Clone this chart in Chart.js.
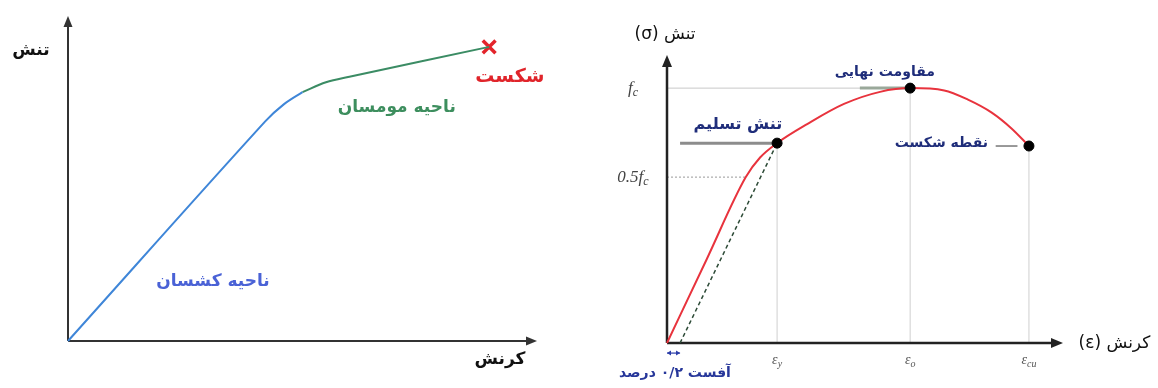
<!DOCTYPE html>
<html><head><meta charset="utf-8">
<script src="https://cdn.jsdelivr.net/npm/chart.js@4.4.1/dist/chart.umd.min.js"></script>
<style>
html,body{margin:0;padding:0;background:#fff;}
#wrap{position:relative;width:1158px;height:388px;overflow:hidden;background:#fff;}
canvas{position:absolute;top:0;}
#c1{left:0;} #c2{left:580px;}
</style></head><body>
<div id="wrap"><canvas id="c1" width="580" height="388"></canvas><canvas id="c2" width="578" height="388"></canvas></div>
<script>
// ---------- Left chart: generic stress-strain (relative units) ----------
const elasticStrain = [0, 42, 46, 50];
const elasticStress = [0, 67.5, 72.8, 76.6];
const plasticStrain = [50, 55, 60, 89.8];
const plasticStress = [76.6, 79.6, 81.3, 90.5];
const fractureStrain = [89.8];
const fractureStress = [90.5];

// ---------- Right chart: concrete stress-strain (relative units) ----------
const concreteStrain = [0, 10, 19.9, 23.5, 27.8, 35.4, 44.7, 53.8, 61.4, 70, 76, 82, 87, 91.4];
const concreteStress = [0, 29, 57.6, 64.4, 69.4, 76, 83, 87.2, 88.5, 87.7, 84.5, 80, 74.5, 68.4];
const offsetStrain = [3.3, 27.8];
const offsetStress = [0, 69.4];
const keyStrain = [27.8, 61.4, 91.4];   // εy, εo, εcu
const keyStress = [69.4, 88.5, 68.4];   // yield, ultimate strength, failure
const strainTickLabels = [['ε','y'], ['ε','o'], ['ε','cu']];
const stressTickValues = [57.6, 88.5];
const stressTickLabels = [['0.5f','c'], ['f','c']];

const xy = (xs, ys) => xs.map((x, i) => ({x, y: ys[i]}));

function arrowAxes(color, width, head) {
  return {
    id: 'arrowAxes',
    beforeDatasetsDraw(chart) {
      const {ctx, chartArea: a} = chart;
      ctx.save();
      ctx.strokeStyle = color; ctx.fillStyle = color; ctx.lineWidth = width;
      ctx.beginPath();
      ctx.moveTo(a.left, a.bottom); ctx.lineTo(a.right - head, a.bottom);
      ctx.moveTo(a.left, a.bottom); ctx.lineTo(a.left, a.top + head);
      ctx.stroke();
      ctx.beginPath();
      ctx.moveTo(a.right, a.bottom); ctx.lineTo(a.right - head - 2, a.bottom - head * 0.5); ctx.lineTo(a.right - head - 2, a.bottom + head * 0.5); ctx.closePath(); ctx.fill();
      ctx.beginPath();
      ctx.moveTo(a.left, a.top); ctx.lineTo(a.left - head * 0.5, a.top + head + 2); ctx.lineTo(a.left + head * 0.5, a.top + head + 2); ctx.closePath(); ctx.fill();
      ctx.restore();
    }
  };
}

function drawText(chart, t) {
  const {ctx, scales} = chart;
  const px = scales.x.getPixelForValue(t.x), py = scales.y.getPixelForValue(t.y);
  ctx.save();
  ctx.font = t.font; ctx.fillStyle = t.color;
  ctx.textAlign = t.align || 'center'; ctx.textBaseline = 'middle';
  ctx.direction = t.rtl ? 'rtl' : 'ltr';
  ctx.fillText(t.text, px, py);
  ctx.restore();
}

function drawSub(chart, parts, px, py, size, color, align) {
  const ctx = chart.ctx;
  ctx.save();
  ctx.fillStyle = color; ctx.textBaseline = 'middle';
  const f1 = 'italic ' + size + 'px "Liberation Serif", "DejaVu Serif", serif';
  const f2 = 'italic ' + Math.round(size * 0.7) + 'px "Liberation Serif", "DejaVu Serif", serif';
  ctx.font = f1; const w1 = ctx.measureText(parts[0]).width;
  ctx.font = f2; const w2 = ctx.measureText(parts[1]).width;
  let x0 = align === 'right' ? px - w1 - w2 : px - (w1 + w2) / 2;
  ctx.textAlign = 'left';
  ctx.font = f1; ctx.fillText(parts[0], x0, py);
  ctx.font = f2; ctx.fillText(parts[1], x0 + w1, py + size * 0.3);
  ctx.restore();
}

const baseOpts = (pad) => ({
  responsive: false, animation: false, devicePixelRatio: 1,
  layout: {padding: pad},
  plugins: {legend: {display: false}, tooltip: {enabled: false}},
  scales: {
    x: {type: 'linear', min: 0, max: 100, display: false},
    y: {type: 'linear', min: 0, max: 100, display: false}
  }
});

// ---------- Left chart ----------
const leftLabels = [
  {text: 'تنش', x: -7.9, y: 89.5, font: 'bold 17px "DejaVu Sans"', color: '#111', rtl: true},
  {text: 'کرنش', x: 92.1, y: -5.8, font: 'bold 17px "DejaVu Sans"', color: '#111', rtl: true},
  {text: 'ناحیه کشسان', x: 30.9, y: 18.2, font: 'bold 17px "DejaVu Sans"', color: '#4a62d6', rtl: true},
  {text: 'ناحیه مومسان', x: 70.1, y: 71.7, font: 'bold 17px "DejaVu Sans"', color: '#3d8e5e', rtl: true},
  {text: 'شکست', x: 94.2, y: 81.2, font: 'bold 19px "DejaVu Sans"', color: '#e0242a', rtl: true}
];
new Chart(document.getElementById('c1'), {
  type: 'line',
  data: {datasets: [
    {data: xy(elasticStrain, elasticStress), borderColor: '#3f86d8', borderWidth: 2, pointRadius: 0, tension: 0.35, clip: false},
    {data: xy(plasticStrain, plasticStress), borderColor: '#3b8c64', borderWidth: 2, pointRadius: 0, tension: 0.35, clip: false},
    {data: xy(fractureStrain, fractureStress), showLine: false, pointStyle: 'crossRot', pointRadius: 9, borderWidth: 3.5, borderColor: '#e3242b', clip: false}
  ]},
  options: baseOpts({left: 68, right: 43, top: 16, bottom: 47}),
  plugins: [arrowAxes('#333', 2, 9), {
    id: 'leftText',
    afterDatasetsDraw(chart) { leftLabels.forEach(t => drawText(chart, t)); }
  }]
});

// ---------- Right chart ----------
const navy = '#1f2d7a';
const rightLabels = [
  {text: 'تنش (σ)', x: -0.5, y: 107, font: '17px "DejaVu Sans"', color: '#111', rtl: true},
  {text: 'کرنش (ε)', x: 113, y: -0.3, font: '17px "DejaVu Sans"', color: '#111', rtl: true},
  {text: 'تنش تسلیم', x: 17.9, y: 75.7, font: 'bold 16px "DejaVu Sans"', color: navy, rtl: true},
  {text: 'مقاومت نهایی', x: 55, y: 94.1, font: 'bold 14px "DejaVu Sans"', color: navy, rtl: true},
  {text: 'نقطه شکست', x: 69.3, y: 69.4, font: 'bold 14px "DejaVu Sans"', color: navy, rtl: true},
  {text: 'آفست ۰/۲ درصد', x: 2, y: -10.4, font: 'bold 14px "DejaVu Sans"', color: '#27379a', rtl: true}
];
new Chart(document.getElementById('c2'), {
  type: 'line',
  data: {datasets: [
    {data: xy(concreteStrain, concreteStress), borderColor: '#e8333d', borderWidth: 2, pointRadius: 0, cubicInterpolationMode: 'monotone', clip: false, order: 2},
    {data: xy(offsetStrain, offsetStress), borderColor: '#2c4a36', borderWidth: 1.5, borderDash: [4, 3], pointRadius: 0, clip: false, order: 3},
    {data: xy(keyStrain, keyStress), showLine: false, pointRadius: 5, pointBackgroundColor: '#000', pointBorderColor: '#000', clip: false, order: 1}
  ]},
  options: baseOpts({left: 87, right: 95, top: 55, bottom: 45}),
  plugins: [{
    id: 'guides',
    beforeDatasetsDraw(chart) {
      const {ctx, scales: {x, y}} = chart;
      const y0 = y.getPixelForValue(0);
      ctx.save();
      ctx.strokeStyle = '#cfcfcf'; ctx.lineWidth = 1;
      keyStrain.forEach((s, i) => {
        const px = x.getPixelForValue(s);
        ctx.beginPath(); ctx.moveTo(px, y.getPixelForValue(keyStress[i])); ctx.lineTo(px, y0); ctx.stroke();
      });
      // fc line
      ctx.strokeStyle = '#c8c8c8';
      const fy = y.getPixelForValue(stressTickValues[1]);
      ctx.beginPath(); ctx.moveTo(x.getPixelForValue(0), fy); ctx.lineTo(x.getPixelForValue(keyStrain[1]), fy); ctx.stroke();
      // 0.5 fc dotted
      const hy = y.getPixelForValue(stressTickValues[0]);
      ctx.setLineDash([2, 2]); ctx.strokeStyle = '#999';
      ctx.beginPath(); ctx.moveTo(x.getPixelForValue(0), hy); ctx.lineTo(x.getPixelForValue(concreteStrain[2]), hy); ctx.stroke();
      ctx.setLineDash([]);
      // leader lines
      ctx.strokeStyle = '#8c8c8c'; ctx.lineWidth = 3;
      const yy = y.getPixelForValue(keyStress[0]);
      ctx.beginPath(); ctx.moveTo(x.getPixelForValue(3.3), yy); ctx.lineTo(x.getPixelForValue(keyStrain[0]), yy); ctx.stroke();
      ctx.strokeStyle = '#9aa89a';
      const uy = y.getPixelForValue(keyStress[1]);
      ctx.beginPath(); ctx.moveTo(x.getPixelForValue(48.7), uy); ctx.lineTo(x.getPixelForValue(keyStrain[1]), uy); ctx.stroke();
      ctx.strokeStyle = '#555'; ctx.lineWidth = 1.2;
      const cy = y.getPixelForValue(keyStress[2]);
      ctx.beginPath(); ctx.moveTo(x.getPixelForValue(83), cy); ctx.lineTo(x.getPixelForValue(88.5), cy); ctx.stroke();
      ctx.restore();
    }
  }, arrowAxes('#222', 2.5, 10), {
    id: 'rightText',
    afterDatasetsDraw(chart) {
      const {ctx, scales: {x, y}} = chart;
      rightLabels.forEach(t => drawText(chart, t));
      stressTickValues.forEach((v, i) => drawSub(chart, stressTickLabels[i], x.getPixelForValue(-8.6), y.getPixelForValue(v), 17, '#444', 'center'));
      keyStrain.forEach((s, i) => drawSub(chart, strainTickLabels[i], x.getPixelForValue(s), y.getPixelForValue(-5.9), 14, '#555', 'center'));
      // offset double arrow
      const ay = y.getPixelForValue(-3.5), ax0 = x.getPixelForValue(0), ax1 = x.getPixelForValue(offsetStrain[0]);
      ctx.save(); ctx.strokeStyle = '#2a3ca8'; ctx.fillStyle = '#2a3ca8'; ctx.lineWidth = 1.2;
      ctx.beginPath(); ctx.moveTo(ax0, ay); ctx.lineTo(ax1, ay); ctx.stroke();
      [[ax0, 1], [ax1, -1]].forEach(([p, d]) => { ctx.beginPath(); ctx.moveTo(p, ay); ctx.lineTo(p + 4 * d, ay - 2.5); ctx.lineTo(p + 4 * d, ay + 2.5); ctx.closePath(); ctx.fill(); });
      ctx.restore();
    }
  }]
});
</script>
</body></html>
